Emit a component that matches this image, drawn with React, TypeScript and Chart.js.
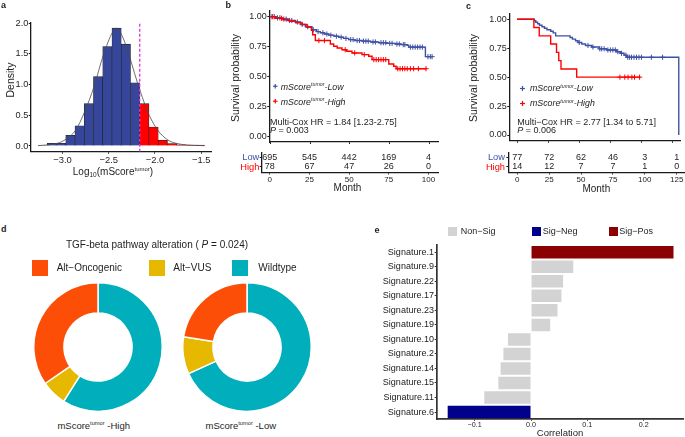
import React, { useEffect, useRef } from 'react';
import { Chart, registerables } from 'chart.js';

Chart.register(...registerables);

const FONT = '"Liberation Sans", Arial, Helvetica, sans-serif';
const INK = '#1e1e1e';
const AXIS = '#1a1a1a';

// ---------------- Panel a : histogram ----------------
const HIST_BIN_CENTERS = [-3.215, -3.115, -3.015, -2.915, -2.815, -2.715, -2.615, -2.515, -2.415, -2.315, -2.215, -2.115, -2.015, -1.915, -1.815, -1.715, -1.615, -1.515];
const HIST_DENSITY = [0.008, 0.045, 0.045, 0.175, 0.33, 0.69, 1.13, 1.62, 1.92, 1.66, 1.03, 0.69, 0.31, 0.094, 0.04, 0.02, 0.01, 0.015];
const HIST_CUTOFF = -2.165;
const KDE_X = [-3.265, -3.056, -2.959, -2.857, -2.76, -2.659, -2.559, -2.457, -2.418, -2.357, -2.292, -2.22, -2.159, -2.062, -1.964, -1.863, -1.762, -1.56, -1.463];
const KDE_Y = [0.005, 0.044, 0.114, 0.26, 0.56, 0.97, 1.48, 1.86, 1.92, 1.8, 1.54, 1.18, 0.89, 0.5, 0.245, 0.1, 0.04, 0.01, 0.005];
const HIST_X_RANGE = [-3.344, -1.39];
const HIST_Y_RANGE = [-0.093, 2.016];
const HIST_X_TICKS = [-3, -2.5, -2, -1.5];
const HIST_Y_TICKS = [0, 0.5, 1, 1.5, 2];

// ---------------- Panels b, c : Kaplan-Meier ----------------
const SURV_TICKS = [0, 0.25, 0.5, 0.75, 1];
const SURV_RANGE = [-0.05, 1.05];
const RISK_GROUPS = ['Low', 'High'];

const B_MONTH_TICKS = [0, 25, 50, 75, 100];
const B_LOW_T = [0, 4, 7.3, 11, 15.7, 19, 22, 26.2, 29, 31.4, 34, 36.7, 40, 43, 46, 49.2, 53, 57.6, 63, 68.1, 73, 78.5, 82, 85.9, 86.9, 97.4];
const B_LOW_S = [1, 0.99, 0.98, 0.968, 0.955, 0.935, 0.915, 0.89, 0.875, 0.865, 0.855, 0.845, 0.836, 0.828, 0.818, 0.808, 0.8, 0.795, 0.788, 0.782, 0.776, 0.771, 0.766, 0.76, 0.745, 0.665];
const B_LOW_LAST = 101.6;
const B_LOW_CENSOR = [1, 2.5, 4.5, 6, 8.5, 10, 12, 13.5, 17, 20, 23.5, 27, 30, 33, 35.5, 38, 41.5, 44.5, 47.5, 50.5, 52, 54.5, 56, 58.5, 60, 61.5, 64.5, 66, 69.5, 71, 72.5, 75, 76.5, 79.5, 81, 83.5, 84.5, 88, 89.5, 91, 92.5, 94, 95.5, 99, 100.5, 101.6];
const B_HIGH_T = [0, 3, 8, 12, 16, 20, 23, 25.8, 26.6, 28.3, 37.7, 39.8, 42, 45, 48, 51.3, 57.6, 61.8, 63.9, 74.4, 77.5, 79];
const B_HIGH_S = [1, 0.987, 0.974, 0.961, 0.948, 0.935, 0.91, 0.885, 0.849, 0.8, 0.771, 0.752, 0.737, 0.723, 0.71, 0.696, 0.682, 0.668, 0.64, 0.603, 0.584, 0.564];
const B_HIGH_LAST = 97.8;
const B_HIGH_CENSOR = [1.5, 7, 30.5, 34, 47, 53, 59, 65, 66.5, 68, 69.5, 71, 72.5, 80, 81.5, 83, 84.5, 86, 88, 90, 93, 97.8];
const B_RISK_LOW = [695, 545, 442, 169, 4];
const B_RISK_HIGH = [78, 67, 47, 26, 0];

const C_MONTH_TICKS = [0, 25, 50, 75, 100, 125];
const C_LOW_T = [0, 13.9, 15, 16.5, 18, 20, 22, 24, 27, 29, 31, 42.6, 44.5, 47, 49, 52, 55, 60, 66, 72, 80, 83, 86, 88, 130];
const C_LOW_S = [1, 0.987, 0.974, 0.961, 0.948, 0.935, 0.922, 0.909, 0.896, 0.883, 0.857, 0.843, 0.829, 0.815, 0.8, 0.787, 0.774, 0.76, 0.745, 0.735, 0.72, 0.706, 0.69, 0.672, 0];
const C_LOW_LAST = 130;
const C_LOW_CENSOR = [50, 57, 61, 66.5, 68, 70, 73, 75, 77, 79, 81, 84, 87.5, 89, 90.5, 92, 94, 96, 98, 100, 108, 117];
const C_HIGH_T = [0, 13.5, 17.8, 27, 31.7, 33.5, 35.3, 47.9];
const C_HIGH_S = [1, 0.929, 0.857, 0.786, 0.714, 0.643, 0.571, 0.5];
const C_HIGH_LAST = 99;
const C_HIGH_CENSOR = [82.7, 86.6, 89.2, 92.3, 94.4, 98.5];
const C_RISK_LOW = [77, 72, 62, 46, 3, 1];
const C_RISK_HIGH = [14, 12, 7, 7, 1, 0];

// ---------------- Panel d : donuts ----------------
const ALT_CATEGORIES = ['Alt\u2212Oncogenic', 'Alt\u2212VUS', 'Wildtype'];
const ALT_HIGH = [27, 5, 46];
const ALT_LOW = [156, 65, 474];

// ---------------- Panel e : correlation bars ----------------
const SIG_LABELS = ['Signature.1', 'Signature.9', 'Signature.22', 'Signature.17', 'Signature.23', 'Signature.19', 'Signature.10', 'Signature.2', 'Signature.14', 'Signature.15', 'Signature.11', 'Signature.6'];
const SIG_CORR = [0.253, 0.075, 0.057, 0.054, 0.047, 0.034, -0.041, -0.049, -0.054, -0.058, -0.083, -0.148];
const SIG_GROUP = ['Sig-Pos', 'Non-Sig', 'Non-Sig', 'Non-Sig', 'Non-Sig', 'Non-Sig', 'Non-Sig', 'Non-Sig', 'Non-Sig', 'Non-Sig', 'Non-Sig', 'Sig-Neg'];
const SIG_GROUPS = ['Non-Sig', 'Sig-Neg', 'Sig-Pos'];
const CORR_TICKS = [-0.1, 0, 0.1, 0.2];
const CORR_RANGE = [-0.1675, 0.2704];

// ---------------- styles ----------------
const HIST_BLUE = '#36469A';
const HIST_RED = '#FF0000';
const CUT_COLOR = '#D63AD6';
const KM_BLUE = '#3F51A5';
const KM_RED = '#FF0000';
const ALT_COLORS = ['#FC4E07', '#E7B800', '#00AFBB'];
const SIG_COLORS: Record<string, string> = { 'Non-Sig': '#D3D3D3', 'Sig-Neg': '#00008B', 'Sig-Pos': '#8B0000' };

const minus = (v: number, d: number) => (v < 0 ? '\u2212' : '') + Math.abs(v).toFixed(d);

function baseOptions(pad: { left: number; top: number; right: number; bottom: number }) {
  return {
    responsive: false,
    maintainAspectRatio: false,
    animation: false,
    devicePixelRatio: 1,
    events: [],
    layout: { padding: pad },
    plugins: { legend: { display: false }, tooltip: { enabled: false }, title: { display: false } },
  };
}

function linAxis(o: any) {
  return {
    type: 'linear',
    position: o.pos,
    min: o.min,
    max: o.max,
    reverse: !!o.reverse,
    offset: false,
    grid: { display: true, drawOnChartArea: false, drawTicks: true, tickLength: o.tickLen ?? 2, color: o.axisColor ?? AXIS, lineWidth: 1, offset: false },
    border: { display: true, color: o.axisColor ?? AXIS, width: o.borderW ?? 1.3 },
    ticks: {
      display: o.show !== false,
      padding: o.pad ?? 0.5,
      color: o.color ?? INK,
      font: { family: FONT, size: o.size ?? 8.4 },
      maxRotation: 0,
      minRotation: 0,
      autoSkip: false,
      callback: (v: number) => (o.fmt ? o.fmt(v) : String(v)),
    },
    afterBuildTicks: (s: any) => {
      s.ticks = o.ticks.map((v: number) => ({ value: v }));
    },
    afterFit: (s: any) => {
      if (o.vertical) s.width = o.fixed;
      else s.height = o.fixed;
    },
  };
}

function ChartBox({ x, y, w, h, make }: { x: number; y: number; w: number; h: number; make: () => any }) {
  const ref = useRef<HTMLCanvasElement>(null);
  useEffect(() => {
    const chart = new Chart(ref.current as HTMLCanvasElement, make());
    return () => chart.destroy();
  }, []);
  return <canvas ref={ref} width={w} height={h} style={{ position: 'absolute', left: x, top: y, width: w, height: h }} />;
}

// ---------- chart configs ----------
function histConfig() {
  return {
    type: 'bar',
    data: {
      datasets: [
        {
          type: 'line',
          data: [{ x: HIST_CUTOFF, y: HIST_Y_RANGE[0] }, { x: HIST_CUTOFF, y: HIST_Y_RANGE[1] }],
          borderColor: CUT_COLOR,
          borderWidth: 1.3,
          borderDash: [3, 2],
          pointRadius: 0,
          order: -1,
        },
        {
          type: 'line',
          data: KDE_X.map((x, i) => ({ x, y: KDE_Y[i] })),
          borderColor: '#4a4a4a',
          borderWidth: 0.8,
          pointRadius: 0,
          cubicInterpolationMode: 'monotone',
          order: 0,
        },
        {
          type: 'bar',
          data: HIST_BIN_CENTERS.map((x, i) => ({ x, y: HIST_DENSITY[i] })),
          backgroundColor: (c: any) => (c.raw && c.raw.x > HIST_CUTOFF ? HIST_RED : HIST_BLUE),
          borderColor: '#202020',
          borderWidth: 0.6,
          borderSkipped: 'start',
          barPercentage: 1,
          categoryPercentage: 1,
          order: 2,
        },
      ],
    },
    options: {
      ...baseOptions({ left: 0, top: 22.3, right: 13.6, bottom: 0 }),
      scales: {
        x: linAxis({ pos: 'bottom', min: HIST_X_RANGE[0], max: HIST_X_RANGE[1], ticks: HIST_X_TICKS, fmt: (v: number) => minus(v, 1), fixed: 33.3, vertical: false, tickLen: 2, pad: 0.7, size: 9.4 }),
        y: linAxis({ pos: 'left', min: HIST_Y_RANGE[0], max: HIST_Y_RANGE[1], ticks: HIST_Y_TICKS, fmt: (v: number) => v.toFixed(1), fixed: 30.7, vertical: true, tickLen: 2, pad: 0.4, size: 9.2 }),
      },
    },
  };
}

const stepAt = (T: number[], S: number[], t: number) => {
  let s = S[0];
  for (let i = 0; i < T.length; i++) if (T[i] <= t) s = S[i];
  return s;
};

function kmSets(T: number[], S: number[], last: number, censor: number[], color: string) {
  const pts = T.map((t, i) => ({ x: t, y: S[i] }));
  if (last > T[T.length - 1]) pts.push({ x: last, y: S[S.length - 1] });
  return [
    {
      data: censor.map((t) => ({ x: t, y: stepAt(T, S, t) })),
      showLine: false,
      pointStyle: 'cross',
      pointRadius: 2.6,
      pointBorderWidth: 1,
      pointBorderColor: color,
      borderColor: color,
      backgroundColor: color,
    },
    { data: pts, stepped: true, borderColor: color, borderWidth: 1.4, pointRadius: 0, fill: false },
  ];
}

function kmConfig(p: any) {
  return {
    type: 'line',
    data: {
      datasets: [
        ...kmSets(p.hT, p.hS, p.hLast, p.hC, KM_RED),
        ...kmSets(p.lT, p.lS, p.lLast, p.lC, KM_BLUE),
      ],
    },
    options: {
      ...baseOptions(p.pad),
      scales: {
        x: linAxis({ pos: 'bottom', min: p.xMin, max: p.xMax, ticks: p.xTicks, show: false, fixed: p.xFixed, vertical: false, tickLen: 2 }),
        y: linAxis({ pos: 'left', min: SURV_RANGE[0], max: SURV_RANGE[1], ticks: SURV_TICKS, fmt: (v: number) => v.toFixed(2), fixed: p.yFixed, vertical: true, tickLen: 2, pad: 0.6, size: 9 }),
      },
    },
  };
}

function riskConfig(p: any) {
  const rows = [p.low, p.high];
  const plugin = {
    id: 'riskNumbers',
    afterDatasetsDraw(chart: any) {
      const { ctx, scales } = chart;
      ctx.save();
      ctx.font = `9px ${FONT}`;
      ctx.fillStyle = INK;
      ctx.textAlign = 'center';
      ctx.textBaseline = 'middle';
      rows.forEach((row: number[], ri: number) =>
        row.forEach((n: number, ti: number) => {
          ctx.fillText(String(n), scales.x.getPixelForValue(p.ticks[ti]), scales.y.getPixelForValue(ri));
        })
      );
      ctx.restore();
    },
  };
  return {
    type: 'scatter',
    data: { datasets: [{ data: [] }] },
    plugins: [plugin],
    options: {
      ...baseOptions(p.pad),
      scales: {
        x: linAxis({ pos: 'bottom', min: p.xMin, max: p.xMax, ticks: p.ticks, fixed: p.xFixed, vertical: false, tickLen: 2, pad: 0, size: 8 }),
        y: linAxis({
          pos: 'left', min: -0.6, max: 1.6, reverse: true, ticks: [0, 1], fmt: (v: number) => RISK_GROUPS[v] ?? '',
          fixed: p.yFixed, vertical: true, tickLen: 2, pad: p.yPad, size: 9.3,
          color: (c: any) => (c.index === 0 ? KM_BLUE : KM_RED),
        }),
      },
    },
  };
}

function donutConfig(values: number[]) {
  const order = [2, 1, 0];
  return {
    type: 'doughnut',
    data: {
      labels: order.map((i) => ALT_CATEGORIES[i]),
      datasets: [{ data: order.map((i) => values[i]), backgroundColor: order.map((i) => ALT_COLORS[i]), borderColor: '#ffffff', borderWidth: 1.5 }],
    },
    options: { ...baseOptions({ left: 0, top: 0, right: 0, bottom: 0 }), cutout: '53%' },
  };
}

function corrConfig() {
  return {
    type: 'bar',
    data: {
      labels: SIG_LABELS,
      datasets: [{ data: SIG_CORR, backgroundColor: SIG_GROUP.map((g) => SIG_COLORS[g]), borderWidth: 0, barPercentage: 0.86, categoryPercentage: 1 }],
    },
    options: {
      ...baseOptions({ left: 0, top: 13, right: 1.7, bottom: 0 }),
      indexAxis: 'y',
      scales: {
        x: linAxis({ pos: 'bottom', min: CORR_RANGE[0], max: CORR_RANGE[1], ticks: CORR_TICKS, fmt: (v: number) => minus(v, 1), fixed: 17.7, vertical: false, tickLen: 1.5, pad: 0.3, size: 7.2, borderW: 1.7, axisColor: '#333' }),
        y: {
          type: 'category',
          position: 'left',
          offset: true,
          grid: { display: true, drawOnChartArea: false, drawTicks: true, tickLength: 2, color: '#333', lineWidth: 1, offset: false },
          border: { display: true, color: '#333', width: 1.7 },
          ticks: { padding: 0.8, color: '#222', font: { family: FONT, size: 9 }, autoSkip: false },
          afterFit: (s: any) => {
            s.width = 96.7;
          },
        },
      },
    },
  };
}

// ---------- HTML text helpers ----------
function T({ x, y, size = 9, align = 'left', rotate = false, bold = false, italic = false, color = INK, children }: any) {
  const tx = align === 'center' ? '-50%' : align === 'right' ? '-100%' : '0';
  return (
    <div
      style={{
        position: 'absolute', left: x, top: y,
        transform: rotate ? 'translate(-50%,-50%) rotate(-90deg)' : `translate(${tx},-50%)`,
        fontFamily: FONT, fontSize: size, lineHeight: 1, color, whiteSpace: 'nowrap',
        fontWeight: bold ? 700 : 400, fontStyle: italic ? 'italic' : 'normal',
      }}
    >
      {children}
    </div>
  );
}
const Sup = ({ children }: any) => <span style={{ fontSize: '0.6em', position: 'relative', top: '-0.6em' }}>{children}</span>;
const Sub = ({ children }: any) => <span style={{ fontSize: '0.65em', position: 'relative', top: '0.35em' }}>{children}</span>;
const Box = ({ x, y, s, color }: any) => <div style={{ position: 'absolute', left: x, top: y, width: s, height: s, background: color }} />;
const Plus = ({ x, y, color, s = 5 }: any) => (
  <svg width={s + 2} height={s + 2} style={{ position: 'absolute', left: x - s / 2 - 1, top: y - s / 2 - 1 }}>
    <line x1={1} y1={s / 2 + 1} x2={s + 1} y2={s / 2 + 1} stroke={color} strokeWidth={1.2} />
    <line x1={s / 2 + 1} y1={1} x2={s / 2 + 1} y2={s + 1} stroke={color} strokeWidth={1.2} />
  </svg>
);
const MScore = ({ suffix }: any) => (
  <>
    mScore<Sup>tumor</Sup>
    {suffix}
  </>
);

export default function App() {
  return (
    <div style={{ position: 'absolute', left: 0, top: 0, width: 685, height: 437, background: '#fff', overflow: 'hidden' }}>
      <ChartBox x={0} y={0} w={225} h={185} make={histConfig} />
      <ChartBox
        x={225} y={0} w={220} h={152}
        make={() => kmConfig({ lT: B_LOW_T, lS: B_LOW_S, lLast: B_LOW_LAST, lC: B_LOW_CENSOR, hT: B_HIGH_T, hS: B_HIGH_S, hLast: B_HIGH_LAST, hC: B_HIGH_CENSOR, xMin: -0.63, xMax: 105.5, xTicks: B_MONTH_TICKS, xFixed: 10, yFixed: 44.3, pad: { left: 0, top: 10.7, right: 6.7, bottom: 0 } })}
      />
      <ChartBox
        x={225} y={145} w={220} h={55}
        make={() => riskConfig({ low: B_RISK_LOW, high: B_RISK_HIGH, ticks: B_MONTH_TICKS, xMin: -5.1, xMax: 106.2, xFixed: 27.5, yFixed: 36.7, yPad: 0.4, pad: { left: 0, top: 7.3, right: 6.7, bottom: 0 } })}
      />
      <ChartBox
        x={460} y={0} w={225} h={152}
        make={() => kmConfig({ lT: C_LOW_T, lS: C_LOW_S, lLast: C_LOW_LAST, lC: C_LOW_CENSOR, hT: C_HIGH_T, hS: C_HIGH_S, hLast: C_HIGH_LAST, hC: C_HIGH_CENSOR, xMin: -6.27, xMax: 131, xTicks: C_MONTH_TICKS, xFixed: 11.2, yFixed: 49.3, pad: { left: 0, top: 13.5, right: 0.7, bottom: 0 } })}
      />
      <ChartBox
        x={460} y={145} w={225} h={55}
        make={() => riskConfig({ low: C_RISK_LOW, high: C_RISK_HIGH, ticks: C_MONTH_TICKS, xMin: -7.06, xMax: 131, xFixed: 27.5, yFixed: 48.3, yPad: 1.3, pad: { left: 0, top: 7.3, right: 0.7, bottom: 0 } })}
      />
      <ChartBox x={32.7} y={281.7} w={130} h={130} make={() => donutConfig(ALT_HIGH)} />
      <ChartBox x={182.3} y={281.7} w={130} h={130} make={() => donutConfig(ALT_LOW)} />
      <ChartBox x={340} y={232} w={345} h={205} make={corrConfig} />

      {/* panel letters */}
      <T x={1} y={5} bold size={9}>a</T>
      <T x={225.5} y={5} bold size={9}>b</T>
      <T x={466} y={6} bold size={9}>c</T>
      <T x={1} y={228.5} bold size={9}>d</T>
      <T x={374.5} y={229.5} bold size={9}>e</T>

      {/* panel a */}
      <T x={9.5} y={80} rotate size={10.5}>Density</T>
      <T x={113} y={172} align="center" size={10}>
        Log<Sub>10</Sub>(mScore<Sup>tumor</Sup>)
      </T>

      {/* panel b */}
      <T x={234.5} y={78} rotate size={10.5}>Survival probability</T>
      <Plus x={275.5} y={86.5} color={KM_BLUE} s={4.5} />
      <T x={280.7} y={86.5} italic size={8.8}><MScore suffix="-Low" /></T>
      <Plus x={275.5} y={101.5} color={KM_RED} s={4.5} />
      <T x={280.7} y={101.5} italic size={8.8}><MScore suffix="-High" /></T>
      <T x={270} y={121.5} size={9}>Multi-Cox HR = 1.84 [1.23-2.75]</T>
      <T x={270} y={129.5} size={9}><i>P</i> = 0.003</T>
      <T x={347.5} y={188} align="center" size={10}>Month</T>

      {/* panel c */}
      <T x={473.3} y={78} rotate size={10.5}>Survival probability</T>
      <Plus x={522.5} y={88} color={KM_BLUE} s={5} />
      <T x={530} y={88} italic size={8.8}><MScore suffix="-Low" /></T>
      <Plus x={522.5} y={103} color={KM_RED} s={5} />
      <T x={530} y={103} italic size={8.8}><MScore suffix="-High" /></T>
      <T x={517.3} y={121.5} size={9}>Multi{'\u2212'}Cox HR = 2.77 [1.34 to 5.71]</T>
      <T x={517.3} y={129.5} size={9}><i>P</i> = 0.006</T>
      <T x={596.3} y={189} align="center" size={10}>Month</T>

      {/* panel d */}
      <T x={157} y={245} align="center" size={10}>TGF-beta pathway alteration ( <i>P</i> = 0.024)</T>
      <Box x={32.3} y={260} s={16} color={ALT_COLORS[0]} />
      <T x={56.7} y={268.3} size={10}>{ALT_CATEGORIES[0]}</T>
      <Box x={149} y={260} s={16} color={ALT_COLORS[1]} />
      <T x={173.3} y={268.3} size={10}>{ALT_CATEGORIES[1]}</T>
      <Box x={232.3} y={260} s={16} color={ALT_COLORS[2]} />
      <T x={258.3} y={268.3} size={10}>{ALT_CATEGORIES[2]}</T>
      <T x={93.7} y={425.7} align="center" size={9.5}><MScore suffix=" -High" /></T>
      <T x={240.8} y={425.7} align="center" size={9.5}><MScore suffix=" -Low" /></T>

      {/* panel e */}
      <Box x={447.7} y={226.7} s={9} color={SIG_COLORS[SIG_GROUPS[0]]} />
      <T x={460.7} y={231.3} size={9}>Non{'\u2212'}Sig</T>
      <Box x={531.7} y={226.7} s={9} color={SIG_COLORS[SIG_GROUPS[1]]} />
      <T x={542.7} y={231.3} size={9}>Sig{'\u2212'}Neg</T>
      <Box x={609.3} y={226.7} s={9} color={SIG_COLORS[SIG_GROUPS[2]]} />
      <T x={619.3} y={231.3} size={9}>Sig{'\u2212'}Pos</T>
      <T x={560} y={433} align="center" size={9.5}>Correlation</T>
    </div>
  );
}
